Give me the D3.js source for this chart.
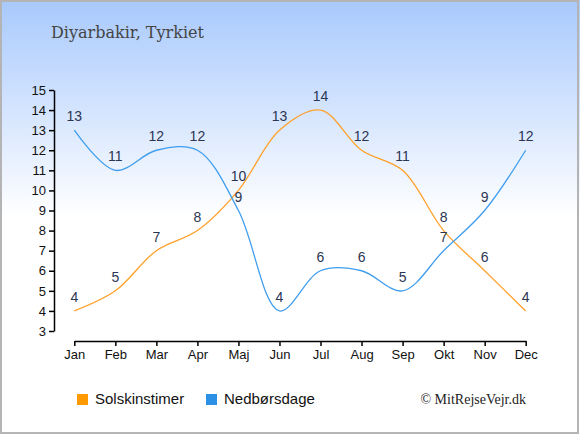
<!DOCTYPE html>
<html><head><meta charset="utf-8">
<script src="https://cdn.jsdelivr.net/npm/d3@7"></script>
<style>body{margin:0;padding:0;background:#fff}svg{display:block}</style>
</head><body><svg id="c" width="580" height="435"></svg>
<script>
const months = ["Jan","Feb","Mar","Apr","Maj","Jun","Jul","Aug","Sep","Okt","Nov","Dec"];
const sunHours = [4,5,7,8,10,13,14,12,11,8,6,4];
const rainDays = [13,11,12,12,9,4,6,6,5,7,9,12];
const yTicks = [3,4,5,6,7,8,9,10,11,12,13,14,15];
const seriesNames = ["Solskinstimer","Nedbørsdage"];
const title = "Diyarbakir, Tyrkiet";
const credit = "© MitRejseVejr.dk";

const svg = d3.select("#c");
const defs = svg.append("defs");
const g = defs.append("linearGradient").attr("id","bg").attr("x1",0).attr("y1",0).attr("x2",0).attr("y2",1);
g.append("stop").attr("offset","0%").attr("stop-color","#a8c9fd");
g.append("stop").attr("offset","50%").attr("stop-color","#ffffff");
g.append("stop").attr("offset","100%").attr("stop-color","#ffffff");
svg.append("rect").attr("x",0).attr("y",0).attr("width",580).attr("height",435).attr("fill","url(#bg)");
svg.append("rect").attr("x",1).attr("y",1).attr("width",577).attr("height",432).attr("fill","none").attr("stroke","#b4b4b4").attr("stroke-width",2);

svg.append("text").attr("x",51).attr("y",38).text(title)
  .attr("font-family","DejaVu Serif").attr("font-size",16).attr("fill","#444");

const x = d3.scalePoint().domain(months).range([74.3,525.7]);
const y = d3.scaleLinear().domain([3,15]).range([331,90]);

const yAxis = svg.append("g").attr("transform","translate(54,0)")
  .call(d3.axisLeft(y).tickValues(yTicks).tickSize(5).tickSizeOuter(0).tickPadding(3));
const xAxis = svg.append("g").attr("transform","translate(0,341)")
  .call(d3.axisBottom(x).tickSize(5).tickSizeOuter(0).tickPadding(4));
[yAxis,xAxis].forEach(a=>{
  a.select(".domain").attr("stroke","#000").attr("stroke-width",1.5);
  a.selectAll(".tick line").attr("stroke","#000").attr("stroke-width",1.5);
  a.selectAll("text").attr("font-family","Liberation Sans, Arial").attr("font-size",13).attr("fill","#111");
});

const line = d3.line().x((d,i)=>x(months[i])).y(d=>y(d)).curve(d3.curveCatmullRom.alpha(0.5));
const colors = ["#ffa02a","#3f9ded"];
const legendColors = ["#ff9900","#2b90e6"];
[sunHours, rainDays].forEach((vals,k)=>{
  svg.append("path").datum(vals).attr("d",line).attr("fill","none")
    .attr("stroke",colors[k]).attr("stroke-width",1.3);
});
[sunHours, rainDays].forEach((vals,k)=>{
  svg.append("g").selectAll("text").data(vals).join("text")
    .attr("x",(d,i)=>x(months[i])).attr("y",d=>y(d)-9)
    .attr("text-anchor","middle").attr("font-family","Liberation Sans, Arial")
    .attr("font-size",14).attr("fill","#2b3652").text(d=>d);
});

const lx = [77,206];
seriesNames.forEach((n,k)=>{
  svg.append("rect").attr("x",lx[k]).attr("y",394).attr("width",11).attr("height",11).attr("fill",legendColors[k]);
  svg.append("text").attr("x",lx[k]+18).attr("y",404).text(n)
    .attr("font-family","Liberation Sans, Arial").attr("font-size",15).attr("fill","#111");
});
svg.append("text").attr("x",526).attr("y",404).attr("text-anchor","end").text(credit)
  .attr("font-family","Liberation Serif, serif").attr("font-size",14).attr("fill","#222");
</script></body></html>
